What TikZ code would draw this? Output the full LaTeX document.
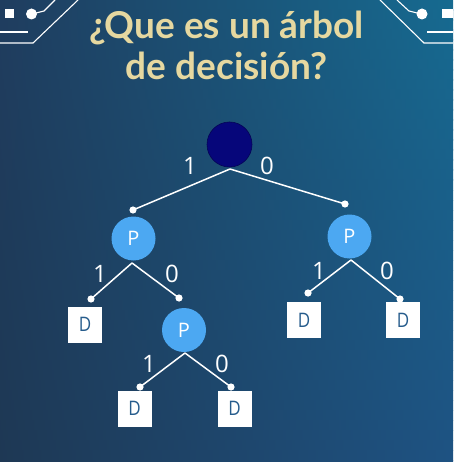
\documentclass[tikz,border=0pt]{standalone}
\usepackage{fontspec}
\setmainfont{Open Sans}
\newfontfamily\titlefont{Lato}
\usetikzlibrary{calc}

\definecolor{ltop}{RGB}{31,61,95}
\definecolor{lbot}{RGB}{30,56,84}
\definecolor{rtop}{RGB}{22,106,144}
\definecolor{rbot}{RGB}{30,82,130}
\definecolor{titlecol}{RGB}{230,216,160}
\definecolor{rootcol}{RGB}{6,6,122}
\definecolor{pcol}{RGB}{76,168,242}
\definecolor{dcol}{RGB}{38,92,140}

\tikzset{
  rootnode/.style={circle, fill=rootcol, draw=rootcol!70!black, line width=0.6pt, minimum size=45pt, inner sep=0pt},
  pnode/.style={circle, fill=pcol, minimum size=44pt, inner sep=0pt, text=white, font=\fontsize{20}{20}\selectfont},
  dbox/.style={rectangle, fill=white, minimum width=34pt, minimum height=36pt, inner sep=0pt, text=dcol, font=\fontsize{20}{20}\selectfont},
  branch/.style={draw=white, line width=1.5pt},
  tip/.style={fill=white},
  blabel/.style={text=white, font=\fontsize{24}{24}\selectfont},
  circuit/.style={draw=white, line width=1.1pt},
  title/.style={text=titlecol, font=\titlefont\bfseries\fontsize{37}{37}\selectfont, anchor=base},
}

\begin{document}
\begin{tikzpicture}[x=1pt,y=-1pt]
\useasboundingbox (0,0) rectangle (453,462);

% background: horizontal gradient whose right end darkens downwards
\foreach \i in {0,...,46}{
  \pgfmathsetmacro\p{100-\i*100/46}
  \shade[left color=ltop!\p!lbot, right color=rtop!\p!rbot]
    (0,\i*10) rectangle (453,\i*10+10.6);
}

% circuit ornaments, top left
\fill[white] (5,9) rectangle (14,18);
\fill[white] (31.5,14) circle (5.5);
\draw[circuit] (36,13) -- (44,11) -- (55,0);
\draw[circuit] (0,32) -- (28,32);
\draw[circuit] (0,43) -- (33,43) -- (78,0);

% circuit ornaments, top right
\fill[white] (442,9) rectangle (453,18);
\fill[white] (422,14) circle (5.5);
\draw[circuit] (417,13) -- (409,11) -- (397,0);
\draw[circuit] (427,32) -- (453,32);
\draw[circuit] (453,43) -- (424,43) -- (380,0);

% title
\node[title] (t1) at (226.5,39) {¿Que es un árbol};
\node[title] (t2) at (226.5,80) {de decisión?};

% tree nodes
\node[rootnode] (root) at (229.5,144.5) {};
\node[pnode] (pl) at (133.5,238.5) {P};
\node[pnode] (pr) at (349.5,236.5) {P};
\node[pnode] (pm) at (184,330) {P};
\node[dbox] (d1) at (85,324.5) {\scalebox{0.85}[1]{D}};
\node[dbox] (d2) at (304,320) {\scalebox{0.85}[1]{D}};
\node[dbox] (d3) at (403,320) {\scalebox{0.85}[1]{D}};
\node[dbox] (d4) at (134.5,408.5) {\scalebox{0.85}[1]{D}};
\node[dbox] (d5) at (234.5,408.5) {\scalebox{0.85}[1]{D}};

% branch points and end points
\coordinate (ar) at (230,169);
\coordinate (apl) at (132,263);
\coordinate (apr) at (351,260);
\coordinate (apm) at (185,353);
\coordinate (epl) at (133,210);
\coordinate (epr) at (345,204);
\coordinate (ed1) at (91,299);
\coordinate (epm) at (179,298);
\coordinate (ed2) at (308,293);
\coordinate (ed3) at (400,299);
\coordinate (ed4) at (140,387);
\coordinate (ed5) at (231,387);

\draw[branch] (ar) -- (epl);
\draw[branch] (ar) -- (epr);
\draw[branch] (apl) -- (ed1);
\draw[branch] (apl) -- (epm);
\draw[branch] (apr) -- (ed2);
\draw[branch] (apr) -- (ed3);
\draw[branch] (apm) -- (ed4);
\draw[branch] (apm) -- (ed5);

\foreach \e in {epl,epr,ed1,epm,ed2,ed3,ed4,ed5}
  \fill[tip] (\e) circle (3.6);

% branch labels
\node[blabel] (l1) at (190,166) {1};
\node[blabel] (l2) at (267,166) {0};
\node[blabel] (l3) at (100,274) {1};
\node[blabel] (l4) at (172,274) {0};
\node[blabel] (l5) at (319,271) {1};
\node[blabel] (l6) at (387,271) {0};
\node[blabel] (l7) at (149,364) {1};
\node[blabel] (l8) at (222,364) {0};
\end{tikzpicture}
\end{document}
